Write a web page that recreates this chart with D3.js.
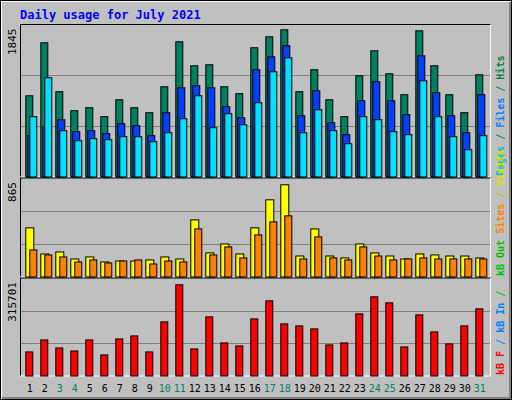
<!DOCTYPE html>
<html><head><meta charset="utf-8">
<script src="https://cdn.jsdelivr.net/npm/d3@7"></script>
<style>body{margin:0;background:#fff}</style>
</head><body><div id="wrapper"></div>
<script>
const days = d3.range(1, 32)
const weekends = [3, 4, 10, 11, 17, 18, 24, 25, 31]
const hits = [1018,1682,1069,831,868,756,968,868,806,1131,1695,1394,1407,1131,1044,1620,1757,1845,1069,1344,968,756,1269,1582,1294,1031,1832,1394,1031,806,1281]
const files = [518,630,718,568,580,543,668,643,518,806,1119,1144,1119,881,743,1344,1507,1645,768,1081,680,530,956,1194,956,781,1519,1056,768,555,1031]
const pages = [756,1244,580,455,480,467,505,505,442,555,730,1018,618,793,655,931,1319,1494,555,843,580,417,756,718,568,530,1206,756,505,342,518]
const visits = [461,216,235,169,188,141,150,150,160,188,169,536,226,310,216,461,724,865,197,451,197,179,310,226,197,169,216,207,197,197,179]
const sites = [254,207,188,141,160,132,150,160,122,150,141,451,207,282,179,395,517,574,169,376,179,160,282,197,160,169,179,169,169,169,169]
const kbytes = [83261,124891,97138,86730,124891,72853,128361,138768,83261,187337,315701,93668,204683,114484,104076,197744,260190,180398,173460,163052,107545,114484,215091,274068,253252,100607,211622,152644,111014,173460,232436]

const W = 512, H = 400
const svg = d3.select("#wrapper").append("svg").attr("width", W).attr("height", H)
  .style("font-family", "DejaVu Sans Mono, monospace")

// background and bevel
svg.append("rect").attr("width", W).attr("height", H).attr("fill", "#000")
svg.append("rect").attr("x", 1).attr("y", 1).attr("width", W - 2).attr("height", H - 2).attr("fill", "#fff")
svg.append("rect").attr("x", 2).attr("y", 2).attr("width", W - 3).attr("height", H - 3).attr("fill", "#808080")
svg.append("rect").attr("x", 2).attr("y", 2).attr("width", W - 5).attr("height", H - 5).attr("fill", "#c0c0c0")

svg.append("text").attr("x", 20).attr("y", 19).text("Daily usage for July 2021")
  .attr("fill", "#0000ff").attr("font-weight", "bold").attr("font-size", 12)

const x = d3.scaleBand().domain(days).range([20.3, 485.3]).paddingInner(0)
const x0 = d => x(d) + 5

const panels = [
  { top: 24.5, bottom: 177, max: 1845, label: "1845", peak: 29.3,
    legend: [["Pages", "#00c0c0"], [" / ", "#008040"], ["Files", "#0080ff"], [" / ", "#008040"], ["Hits", "#008040"]] },
  { top: 178, bottom: 277, max: 865, label: "865", peak: 184.3,
    legend: [["kB Out", "#00c000"], [" ", "#00c000"], ["Sites", "#ff8000"], [" / ", "#c0c000"], ["Visits", "#e0e000"]] },
  { top: 278, bottom: 376, max: 315701, label: "315701", peak: 284.3,
    legend: [["kB F", "#ff0000"], [" / ", "#0080ff"], ["kB In", "#0080ff"], [" / ", "#00c000"]] }
]

panels.forEach((p, i) => {
  const g = svg.append("g")
  g.append("line").attr("x1", 20).attr("x2", 491).attr("y1", p.top).attr("y2", p.top).attr("stroke", "#000")
  g.append("line").attr("x1", 20.5).attr("x2", 20.5).attr("y1", p.top).attr("y2", p.bottom).attr("stroke", "#000")
  g.append("line").attr("x1", 20).attr("x2", 491).attr("y1", p.bottom).attr("y2", p.bottom).attr("stroke", "#fff")
  g.append("line").attr("x1", 490.5).attr("x2", 490.5).attr("y1", p.top).attr("y2", p.bottom).attr("stroke", "#fff")
  const h = p.bottom - p.top
  ;[1, 2].forEach(k => {
    const yy = Math.round(p.top + h * k / 3) + 0.5
    g.append("line").attr("x1", 21).attr("x2", 490).attr("y1", yy).attr("y2", yy).attr("stroke", "#808080")
  })
  g.append("text").attr("transform", `translate(16,${p.top + 4}) rotate(-90)`).attr("text-anchor", "end")
    .attr("font-size", 11).attr("fill", "#000").text(p.label)
  const t = g.append("text").attr("transform", `translate(504,${p.bottom - 1}) rotate(-90)`)
    .attr("text-anchor", "start").attr("font-size", 10).attr("font-weight", "bold")
  p.legend.forEach(([s, c]) => t.append("tspan").attr("fill", c).text(s))
  p.y = d3.scaleLinear().domain([0, p.max]).range([p.bottom - 0.5, p.peak])
})

function bars(panel, data, dx, w, color) {
  svg.append("g").selectAll("rect").data(days).join("rect")
    .attr("x", d => x0(d) + dx + 0.5).attr("width", w)
    .attr("y", (d, i) => panel.y(data[i]) + 0.5)
    .attr("height", (d, i) => panel.y(0) - panel.y(data[i]))
    .attr("fill", color).attr("stroke", "#000").attr("stroke-width", 1)
}
bars(panels[0], hits, 0, 7, "#008060")
bars(panels[0], files, 2, 7, "#0040ff")
bars(panels[0], pages, 4, 7, "#00e0ff")
bars(panels[1], visits, 0, 8, "#ffff00")
bars(panels[1], sites, 4, 7, "#ff8000")
bars(panels[2], kbytes, 0, 7, "#ff0000")

svg.append("g").selectAll("text").data(days).join("text")
  .attr("x", d => x0(d) + 4.5).attr("y", 392).attr("text-anchor", "middle")
  .attr("font-size", 10).attr("font-family", "DejaVu Sans Mono, monospace")
  .attr("fill", d => weekends.includes(d) ? "#008060" : "#000").text(d => d)
</script></body></html>
